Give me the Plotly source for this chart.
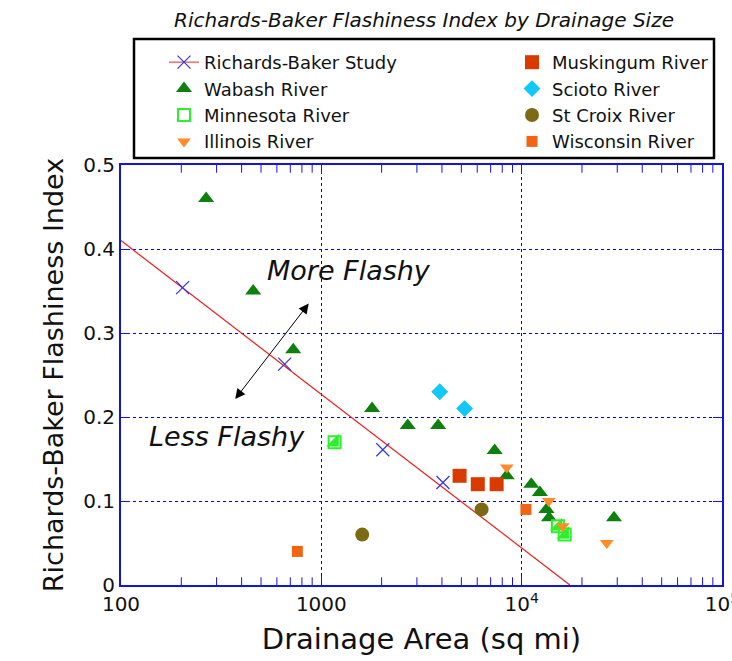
import plotly.graph_objects as go
import math

# ---------------- data ----------------
rb_x = [203, 656, 2027, 4045]
rb_y = [0.354, 0.263, 0.161, 0.122]
rb_fit_x = [100, 17400]
rb_fit_y = [0.41, 0.0]

wabash_x = [266, 457, 724, 1792, 2700, 3830, 7330, 8420, 11170, 12330, 13300, 13700, 28900]
wabash_y = [0.46, 0.35, 0.28, 0.21, 0.19, 0.19, 0.16, 0.13, 0.12, 0.11, 0.09, 0.08, 0.08]

minnesota_x = [1165, 15170, 16400]
minnesota_y = [0.17, 0.07, 0.06]

illinois_x = [8430, 13650, 16030, 26600]
illinois_y = [0.14, 0.10, 0.07, 0.05]

muskingum_x = [4900, 6040, 7500]
muskingum_y = [0.13, 0.12, 0.12]

scioto_x = [3900, 5190]
scioto_y = [0.23, 0.21]

stcroix_x = [1600, 6310]
stcroix_y = [0.06, 0.09]

wisconsin_x = [759, 10500]
wisconsin_y = [0.04, 0.09]

x_tickvals = [100, 1000, 10000, 100000]
x_ticktext = ["100", "1000", "10<sup>4</sup>", "10<sup>5</sup>"]
x_minor_tickvals = [200, 300, 400, 500, 600, 700, 800, 900,
                    2000, 3000, 4000, 5000, 6000, 7000, 8000, 9000,
                    20000, 30000, 40000, 50000, 60000, 70000, 80000, 90000]
y_tickvals = [0, 0.1, 0.2, 0.3, 0.4, 0.5]
y_ticktext = ["0", "0.1", "0.2", "0.3", "0.4", "0.5"]

# ---------------- style ----------------
FONT = "DejaVu Sans"
BLUE = "#1414e0"
GRID = "#0000ff"
CROSS = "#3333e6"

fig = go.Figure()

# minor log ticks on bottom and top frame (clipped to the plot area -> inward ticks)
n_minor = len(x_minor_tickvals)
fig.add_trace(go.Scatter(x=x_minor_tickvals * 2,
                         y=[y_tickvals[0]] * n_minor + [y_tickvals[-1]] * n_minor,
                         mode="markers", cliponaxis=True,
                         marker=dict(symbol="line-ns-open", size=11, color=BLUE,
                                     line=dict(color=BLUE, width=1)),
                         showlegend=False, hoverinfo="skip"))

# fit line
fig.add_trace(go.Scatter(x=rb_fit_x, y=rb_fit_y, mode="lines",
                         line=dict(color="#ee1c1c", width=1.2),
                         showlegend=False, hoverinfo="skip"))
# study points
fig.add_trace(go.Scatter(x=rb_x, y=rb_y, mode="markers",
                         marker=dict(symbol="x-thin-open", size=13, color=CROSS,
                                     line=dict(color=CROSS, width=1.2)),
                         showlegend=False))
# legend-only entry for the study (line + cross)
fig.add_trace(go.Scatter(x=[None], y=[None], mode="lines+markers",
                         name="Richards-Baker Study",
                         line=dict(color="#f07070", width=1.5),
                         marker=dict(symbol="x-thin-open", size=13, color=CROSS,
                                     line=dict(color=CROSS, width=1.2)),
                         legend="legend"))

fig.add_trace(go.Scatter(x=wabash_x, y=wabash_y, mode="markers", name="Wabash River",
                         marker=dict(symbol="triangle-up", size=14, color="#0d800d"),
                         legend="legend"))

# Minnesota: half-filled square (open square + filled lower-right triangle)
fig.add_trace(go.Scatter(x=minnesota_x, y=minnesota_y, mode="markers", name="Minnesota River",
                         marker=dict(symbol="square-open", size=12, color="#2cf02c",
                                     line=dict(color="#2cf02c", width=2)),
                         legend="legend", legendgroup="mn"))
fig.add_trace(go.Scatter(x=minnesota_x, y=minnesota_y, mode="markers",
                         marker=dict(symbol="triangle-se", size=14, color="#2cf02c",
                                     line=dict(width=0)),
                         showlegend=False, legendgroup="mn"))

fig.add_trace(go.Scatter(x=illinois_x, y=illinois_y, mode="markers", name="Illinois River",
                         marker=dict(symbol="triangle-down", size=12, color="#ff8c28"),
                         legend="legend"))

fig.add_trace(go.Scatter(x=muskingum_x, y=muskingum_y, mode="markers", name="Muskingum River",
                         marker=dict(symbol="square", size=14, color="#d93a00"),
                         legend="legend2"))
fig.add_trace(go.Scatter(x=scioto_x, y=scioto_y, mode="markers", name="Scioto River",
                         marker=dict(symbol="diamond", size=13, color="#12c8f8"),
                         legend="legend2"))
fig.add_trace(go.Scatter(x=stcroix_x, y=stcroix_y, mode="markers", name="St Croix River",
                         marker=dict(symbol="circle", size=14, color="#7d6a14"),
                         legend="legend2"))
fig.add_trace(go.Scatter(x=wisconsin_x, y=wisconsin_y, mode="markers", name="Wisconsin River",
                         marker=dict(symbol="square", size=11, color="#f06414"),
                         legend="legend2"))

L, R, T, B = 121, 10, 165, 76
W, H = 732, 661
pw = W - L - R
ph = H - T - B

def px_x(p):
    return (p - L) / pw

def px_y(p):
    return (H - B - p) / ph

leg_common = dict(bgcolor="rgba(0,0,0,0)", borderwidth=0,
                  font=dict(family=FONT, size=18, color="#111111"),
                  tracegroupgap=0, xanchor="left", yanchor="top",
                  itemclick=False, itemdoubleclick=False)

fig.update_layout(
    width=W, height=H,
    margin=dict(l=L, r=R, t=T, b=B, autoexpand=False),
    paper_bgcolor="white", plot_bgcolor="white",
    font=dict(family=FONT, color="#111111"),
    title=dict(text="<i>Richards-Baker Flashiness Index by Drainage Size</i>",
               x=424 / W, xanchor="center",
               y=1 - 20 / H, yanchor="middle",
               font=dict(family=FONT, size=20, color="#111111")),
    legend=dict(x=px_x(164), y=px_y(44), **leg_common),
    legend2=dict(x=px_x(512), y=px_y(44), **leg_common),
    showlegend=True,
)

fig.update_xaxes(
    type="log", range=[2, 5], automargin=False,
    tickmode="array", tickvals=x_tickvals, ticktext=x_ticktext,
    tickfont=dict(family=FONT, size=20, color="#111111"),
    ticklabeloverflow="allow",
    ticks="inside", ticklen=9, tickcolor=BLUE, tickwidth=1,
    showline=True, linecolor=BLUE, linewidth=2, mirror="ticks",
    showgrid=True, gridcolor=GRID, gridwidth=1.2, griddash="3px,3px",
    zeroline=False,
    title=dict(text="Drainage Area (sq mi)", font=dict(family=FONT, size=29, color="#111111"),
               standoff=14),
)
fig.update_yaxes(
    range=[0, 0.5], automargin=False,
    tickmode="array", tickvals=y_tickvals, ticktext=y_ticktext,
    tickfont=dict(family=FONT, size=20, color="#111111"),
    ticks="inside", ticklen=9, tickcolor=BLUE, tickwidth=1,
    showline=True, linecolor=BLUE, linewidth=2, mirror="ticks",
    showgrid=True, gridcolor=GRID, gridwidth=1.2, griddash="3px,3px",
    zeroline=False,
    title=dict(text="Richards-Baker Flashiness Index", font=dict(family=FONT, size=27, color="#111111"),
               standoff=12),
)

# legend box
fig.add_shape(type="rect", xref="paper", yref="paper",
              x0=px_x(134), x1=px_x(714), y0=px_y(158), y1=px_y(39),
              line=dict(color="black", width=2.5), fillcolor="rgba(0,0,0,0)", layer="above")

# annotations
fig.add_annotation(x=math.log10(1370), y=0.375, xref="x", yref="y",
                   text="<i>More Flashy</i>", showarrow=False,
                   font=dict(family=FONT, size=27, color="#111111"))
fig.add_annotation(x=math.log10(340), y=0.177, xref="x", yref="y",
                   text="<i>Less Flashy</i>", showarrow=False,
                   font=dict(family=FONT, size=27, color="#111111"))
# double-headed arrow
fig.add_annotation(x=math.log10(865), y=0.335, ax=math.log10(357), ay=0.216,
                   xref="x", yref="y", axref="x", ayref="y",
                   text=" ", showarrow=True, arrowhead=2, arrowside="end+start",
                   arrowsize=2, arrowwidth=1, arrowcolor="black")

fig.write_html("out.html")
